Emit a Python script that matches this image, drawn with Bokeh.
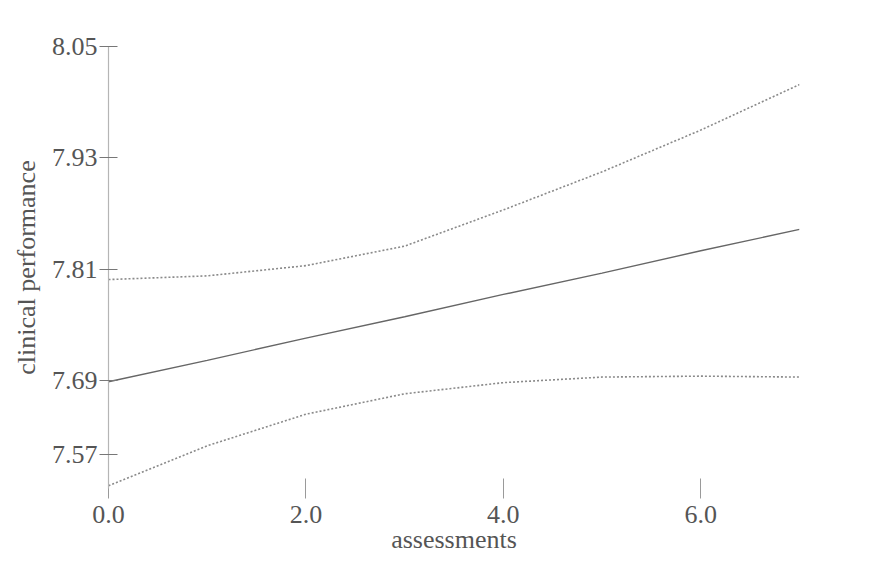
from bokeh.plotting import figure
from bokeh.models import FixedTicker, Range1d
from bokeh.embed import file_html
from bokeh.resources import INLINE

# ---- data ----
assessments = [0, 1, 2, 3, 4, 5, 6, 7]
mean_perf = [7.689, 7.712, 7.736, 7.759, 7.783, 7.806, 7.830, 7.853]
upper_ci = [7.799, 7.803, 7.814, 7.835, 7.874, 7.915, 7.960, 8.009]
lower_ci = [7.577, 7.620, 7.654, 7.676, 7.688, 7.694, 7.695, 7.694]

x_ticks = [0, 2, 4, 6]
x_tick_labels = ["0.0", "2.0", "4.0", "6.0"]
# the lowest label sits just above the axis break
y_ticks = [7.611, 7.69, 7.81, 7.93, 8.05]
y_tick_labels = ["7.57", "7.69", "7.81", "7.93", "8.05"]

FONT = "Liberation Serif"
TEXT = "#555555"

p = figure(width=860, height=558, output_backend="svg", toolbar_location=None,
           x_range=Range1d(0, 7), y_range=Range1d(7.574, 8.05),
           min_border_left=108, min_border_top=46, min_border_right=61,
           min_border_bottom=70)
p.outline_line_color = None
p.xgrid.visible = False
p.ygrid.visible = False
p.background_fill_color = "white"
p.border_fill_color = "white"

p.line(assessments, upper_ci, line_color="#8a8a8a", line_width=1.6, line_dash="2 2")
p.line(assessments, lower_ci, line_color="#8a8a8a", line_width=1.6, line_dash="2 2")
p.line(assessments, mean_perf, line_color="#666666", line_width=1.4)

# x axis
xa = p.xaxis[0]
xa.ticker = FixedTicker(ticks=x_ticks)
xa.major_label_overrides = dict(zip(x_ticks, x_tick_labels))
xa.axis_line_color = None
xa.major_tick_line_color = "#9a9a9a"
xa.major_tick_in = 10
xa.major_tick_out = 10
xa.minor_tick_line_color = None
xa.major_label_standoff = 7
xa.major_label_text_font = FONT
xa.major_label_text_font_size = "26px"
xa.major_label_text_color = TEXT
xa.axis_label = "assessments"
xa.axis_label_text_font = FONT
xa.axis_label_text_font_size = "26px"
xa.axis_label_text_font_style = "normal"
xa.axis_label_text_color = TEXT
xa.axis_label_standoff = -1

# y axis
ya = p.yaxis[0]
ya.ticker = FixedTicker(ticks=y_ticks)
ya.major_label_overrides = dict(zip(y_ticks, y_tick_labels))
ya.axis_line_color = "#b5b5b5"
ya.axis_line_width = 1.2
ya.major_tick_line_color = "#777777"
ya.major_tick_in = 9
ya.major_tick_out = 9
ya.minor_tick_line_color = None
ya.major_label_standoff = 2
ya.major_label_text_font = FONT
ya.major_label_text_font_size = "26px"
ya.major_label_text_color = TEXT
ya.axis_label = "clinical performance"
ya.axis_label_text_font = FONT
ya.axis_label_text_font_size = "26px"
ya.axis_label_text_font_style = "normal"
ya.axis_label_text_color = TEXT
ya.axis_label_standoff = 8

open("out.html", "w").write(file_html(p, INLINE))
